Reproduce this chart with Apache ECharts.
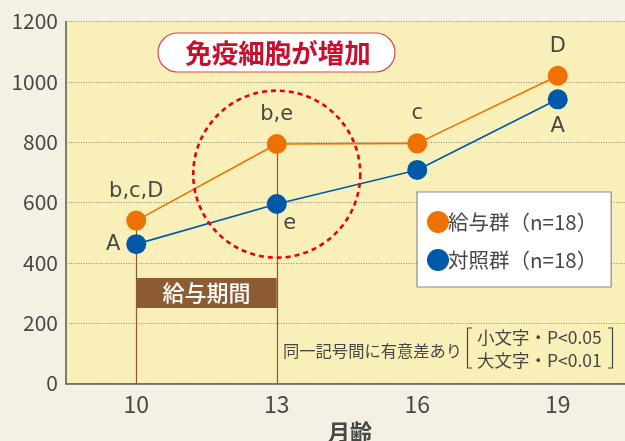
<!DOCTYPE html>
<html><head><meta charset="utf-8">
<script src="https://cdn.jsdelivr.net/npm/echarts@6/dist/echarts.min.js"></script>
<style>html,body{margin:0;padding:0;background:#f4f0e3;}#c{width:625px;height:441px;}</style>
</head><body><div id="c"></div>
<script>
const categories = ['10','13','16','19'];
const yTicks = [0,200,400,600,800,1000,1200];
const seriesNames = ['給与群（n=18）','対照群（n=18）'];
const treated = [540, 794, 796, 1020];
const control = [462, 595, 708, 942];
const treatedLabels = ['b,c,D','b,e','c','D'];
const controlLabels = ['A','e','','A'];
const periodLabel = '給与期間';
const periodRange = ['10','13'];
const periodBand = [250, 350];
const titleText = '免疫細胞が増加';
const noteText = '同一記号間に有意差あり';
const noteLines = ['小文字・P<0.05','大文字・P<0.01'];
const xName = '月齢';

const FONT = '"Noto Sans CJK JP", "Noto Sans", sans-serif';
const LFONT = '"DejaVu Sans", "Noto Sans", sans-serif';
const ORANGE = '#ee7203', BLUE = '#0058a8', BROWN = '#8b5a2f', TXT = '#474747';

const chart = echarts.init(document.getElementById('c'));

function lbl(text, pos, offset){
  return {show: !!text, formatter: text, position: pos, offset: offset||[0,0], color: TXT, fontSize: 21, fontFamily: LFONT};
}
const tLabelPos = [['top',[0,-4]],['top',[0,-4]],['top',[0,-4]],['top',[0,-4]]];
const cLabelPos = [['left',[-1,0]],['bottom',[13,-6]],['bottom',[0,0]],['bottom',[0,2]]];

const option = {
  backgroundColor: '#f4f0e3',
  animation: false,
  textStyle: {fontFamily: FONT},
  grid: {left: 66, top: 21.5, width: 562, height: 362, show: true, backgroundColor: '#f9efb9', borderWidth: 0,
         containLabel: false, outerBoundsMode: 'none'},
  xAxis: {
    type: 'category', data: categories, boundaryGap: true,
    axisLine: {lineStyle: {color: '#555', width: 1.5}},
    axisTick: {inside: true, length: 7, lineStyle: {color: '#555'}},
    axisLabel: {color: TXT, fontSize: 23, margin: 9, fontFamily: FONT},
    splitLine: {show: false},
    name: xName, nameLocation: 'middle', nameGap: 35,
    nameTextStyle: {color: TXT, fontSize: 22, fontWeight: 'bold', fontFamily: FONT, padding: [0,0,0,6]}
  },
  yAxis: {
    type: 'value', min: 0, max: 1200, interval: 200,
    axisLine: {show: true, lineStyle: {color: '#555', width: 1.5}},
    axisTick: {show: false},
    axisLabel: {color: TXT, fontSize: 21, margin: 8, fontFamily: FONT,
      formatter: v => yTicks.indexOf(v) >= 0 ? String(v) : ''},
    splitLine: {lineStyle: {color: '#8a8a7a', type: [1,1.5], width: 1}}
  },
  legend: {
    orient: 'vertical', left: 417, top: 192, width: 170,
    padding: [19, 14, 16, 10], itemGap: 16,
    backgroundColor: '#ffffff', borderColor: '#8a8a8a', borderWidth: 1.2,
    icon: 'circle', itemWidth: 22, itemHeight: 22,
    textStyle: {color: TXT, fontSize: 20.5, fontFamily: FONT, padding: [0,0,0,-6]},
    data: seriesNames
  },
  series: [
    {
      name: seriesNames[0], type: 'line', data: treated.map((v,i)=>({value: v, label: lbl(treatedLabels[i], tLabelPos[i][0], tLabelPos[i][1])})),
      symbol: 'circle', symbolSize: 20, z: 5,
      itemStyle: {color: ORANGE}, lineStyle: {color: ORANGE, width: 1.6},
      markLine: {
        silent: true, symbol: 'none', label: {show: false},
        lineStyle: {color: BROWN, width: 1.2, type: 'solid'},
        data: [
          [{coord: ['10', 0]}, {coord: ['10', treated[0]]}],
          [{coord: ['13', 0]}, {coord: ['13', treated[1]]}]
        ]
      },
      markArea: {
        silent: true,
        itemStyle: {color: '#8e5c33'},
        label: {show: true, position: 'inside', color: '#fff', fontSize: 22, fontWeight: 500, fontFamily: FONT},
        data: [[{name: periodLabel, coord: [periodRange[0], periodBand[1]]}, {coord: [periodRange[1], periodBand[0]]}]]
      }
    },
    {
      name: seriesNames[1], type: 'line', data: control.map((v,i)=>({value: v, label: lbl(controlLabels[i], cLabelPos[i][0], cLabelPos[i][1])})),
      symbol: 'circle', symbolSize: 20, z: 5,
      itemStyle: {color: BLUE}, lineStyle: {color: BLUE, width: 1.6}
    }
  ]
};
chart.setOption(option);

// decorations positioned relative to the axes
const c13 = chart.convertToPixel({xAxisIndex:0, yAxisIndex:0}, ['13', 694]);
chart.setOption({
  graphic: [
    {type: 'circle', shape: {cx: c13[0], cy: c13[1], r: 83.5}, z: 10,
     style: {fill: 'none', stroke: '#e60012', lineWidth: 2.6, lineDash: [5, 4]}},
    {type: 'rect', shape: {x: 158, y: 33, width: 237, height: 39, r: 19.5}, z: 10,
     style: {fill: '#ffffff', stroke: '#d8474f', lineWidth: 1.2}},
    {type: 'text', x: 278, y: 53, z: 11,
     style: {text: titleText, fill: '#c8102e', font: 'bold 26.5px ' + FONT, textAlign: 'center', textVerticalAlign: 'middle'}},
    {type: 'text', x: 283, y: 351, z: 11,
     style: {text: noteText, fill: TXT, font: '16.3px ' + FONT, textAlign: 'left', textVerticalAlign: 'middle'}},
    {type: 'text', x: 477, y: 337, z: 11,
     style: {text: noteLines[0], fill: TXT, font: '17.5px ' + FONT, textAlign: 'left', textVerticalAlign: 'middle'}},
    {type: 'text', x: 477, y: 360, z: 11,
     style: {text: noteLines[1], fill: TXT, font: '17.5px ' + FONT, textAlign: 'left', textVerticalAlign: 'middle'}},
    {type: 'polyline', shape: {points: [[472,328],[467.5,328],[467.5,368],[472,368]]}, z: 11,
     style: {fill: 'none', stroke: TXT, lineWidth: 1.2}},
    {type: 'polyline', shape: {points: [[608,328],[612.5,328],[612.5,368],[608,368]]}, z: 11,
     style: {fill: 'none', stroke: TXT, lineWidth: 1.2}}
  ]
});
</script></body></html>
